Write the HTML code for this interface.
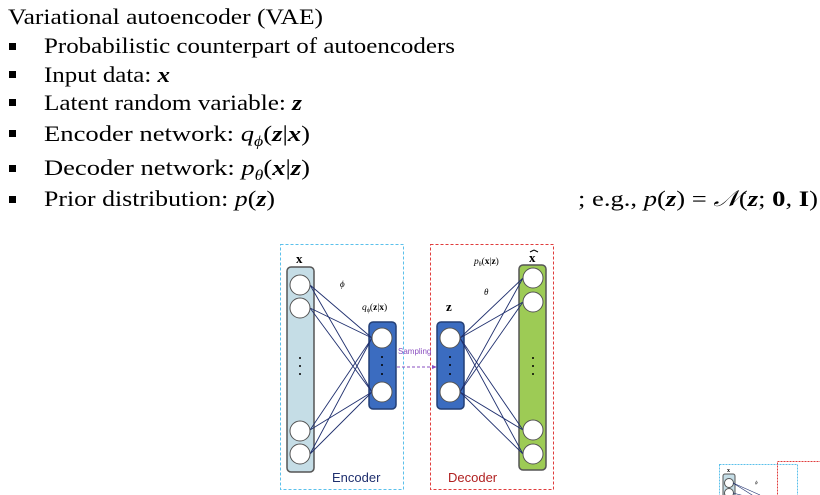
<!DOCTYPE html>
<html><head><meta charset="utf-8"><style>
html,body{margin:0;padding:0;background:#fff;}
svg{display:block}
.t{font-family:"Liberation Serif",serif;fill:#000}
.s{font-family:"Liberation Sans",sans-serif}
</style></head><body>
<svg width="820" height="495" viewBox="0 0 820 495" xmlns="http://www.w3.org/2000/svg">
<g class="t" style="font-size:22.5px">
<text x="8" y="24" textLength="315" lengthAdjust="spacingAndGlyphs">Variational autoencoder (VAE)</text>
<text x="44" y="53" textLength="411" lengthAdjust="spacingAndGlyphs">Probabilistic counterpart of autoencoders</text>
<text x="44" y="82" textLength="126" lengthAdjust="spacingAndGlyphs">Input data: <tspan font-weight="bold" font-style="italic">x</tspan></text>
<text x="44" y="110" textLength="258" lengthAdjust="spacingAndGlyphs">Latent random variable: <tspan font-weight="bold" font-style="italic">z</tspan></text>
<text x="44" y="141" textLength="266" lengthAdjust="spacingAndGlyphs">Encoder network: <tspan font-style="italic">q</tspan><tspan font-style="italic" style="font-size:15px" dy="5">ϕ</tspan><tspan dy="-5">(</tspan><tspan font-weight="bold" font-style="italic">z</tspan>|<tspan font-weight="bold" font-style="italic">x</tspan>)</text>
<text x="44" y="175" textLength="266" lengthAdjust="spacingAndGlyphs">Decoder network: <tspan font-style="italic">p</tspan><tspan font-style="italic" style="font-size:15px" dy="5">θ</tspan><tspan dy="-5">(</tspan><tspan font-weight="bold" font-style="italic">x</tspan>|<tspan font-weight="bold" font-style="italic">z</tspan>)</text>
<text x="44" y="206" textLength="231" lengthAdjust="spacingAndGlyphs">Prior distribution: <tspan font-style="italic">p</tspan>(<tspan font-weight="bold" font-style="italic">z</tspan>)</text>
<text x="578" y="206" textLength="240" lengthAdjust="spacingAndGlyphs">; e.g., <tspan font-style="italic">p</tspan>(<tspan font-weight="bold" font-style="italic">z</tspan>) = <tspan font-style="italic">𝒩</tspan>(<tspan font-weight="bold" font-style="italic">z</tspan>; <tspan font-weight="bold">0</tspan>, <tspan font-weight="bold">I</tspan>)</text>
</g>
<g fill="#000">
<rect x="9" y="43" width="7" height="7"/>
<rect x="9" y="71" width="7" height="7"/>
<rect x="9" y="99" width="7" height="7"/>
<rect x="9" y="130" width="7" height="7"/>
<rect x="9" y="165" width="7" height="7"/>
<rect x="9" y="196" width="7" height="7"/>
</g>

<rect x="280.5" y="244.5" width="123" height="245" fill="none" stroke="#5bc0eb" stroke-dasharray="3,2"/>
<rect x="430.5" y="244.5" width="123" height="245" fill="none" stroke="#e03c3c" stroke-dasharray="3,2"/>

<rect x="287" y="267" width="27" height="205" rx="4" fill="#c5dde6" stroke="#555" stroke-width="1.5"/>
<rect x="369" y="322" width="27" height="87" rx="4" fill="#3b6cc0" stroke="#233f75" stroke-width="1.5"/>
<rect x="437" y="322" width="27" height="87" rx="4" fill="#3b6cc0" stroke="#233f75" stroke-width="1.5"/>
<rect x="519" y="265" width="27" height="205" rx="4" fill="#9dcb55" stroke="#555" stroke-width="1.5"/>

<g stroke="#1f2f6e" stroke-width="0.9">
<line x1="310" y1="285" x2="372" y2="338"/><line x1="310" y1="285" x2="372" y2="392"/>
<line x1="310" y1="308" x2="372" y2="338"/><line x1="310" y1="308" x2="372" y2="392"/>
<line x1="310" y1="430" x2="372" y2="338"/><line x1="310" y1="430" x2="372" y2="392"/>
<line x1="310" y1="454" x2="372" y2="338"/><line x1="310" y1="454" x2="372" y2="392"/>
<line x1="460" y1="338" x2="523" y2="278"/><line x1="460" y1="338" x2="523" y2="302"/>
<line x1="460" y1="338" x2="523" y2="430"/><line x1="460" y1="338" x2="523" y2="454"/>
<line x1="460" y1="392" x2="523" y2="278"/><line x1="460" y1="392" x2="523" y2="302"/>
<line x1="460" y1="392" x2="523" y2="430"/><line x1="460" y1="392" x2="523" y2="454"/>
</g>

<g fill="#fff" stroke="#555" stroke-width="1">
<circle cx="300" cy="285" r="10"/><circle cx="300" cy="308" r="10"/>
<circle cx="300" cy="431" r="10"/><circle cx="300" cy="454" r="10"/>
<circle cx="382" cy="338" r="10"/><circle cx="382" cy="392" r="10"/>
<circle cx="450" cy="338" r="10"/><circle cx="450" cy="392" r="10"/>
<circle cx="533" cy="278" r="10"/><circle cx="533" cy="302" r="10"/>
<circle cx="533" cy="430" r="10"/><circle cx="533" cy="454" r="10"/>
</g>
<g fill="#000">
<circle cx="300" cy="358" r="1"/><circle cx="300" cy="366" r="1"/><circle cx="300" cy="374" r="1"/>
<circle cx="533" cy="358" r="1"/><circle cx="533" cy="366" r="1"/><circle cx="533" cy="374" r="1"/>
<circle cx="382" cy="357" r="1"/><circle cx="382" cy="365" r="1"/><circle cx="382" cy="374" r="1"/>
<circle cx="450" cy="357" r="1"/><circle cx="450" cy="365" r="1"/><circle cx="450" cy="374" r="1"/>
</g>

<line x1="397" y1="367" x2="433" y2="367" stroke="#8a4fc0" stroke-width="1" stroke-dasharray="3,2"/>
<polygon points="437,367 432,365 432,369" fill="#8a4fc0"/>
<text class="s" x="398" y="354" style="font-size:8px" fill="#8a4fc0">Sampling</text>

<text class="t" x="296" y="263" style="font-size:13px" font-weight="bold">x</text>
<text class="t" x="340" y="287" style="font-size:9px" font-style="italic">ϕ</text>
<text class="t" x="362" y="310" style="font-size:9.5px"><tspan font-style="italic">q</tspan><tspan style="font-size:6px" dy="2">ϕ</tspan><tspan dy="-2">(</tspan><tspan font-weight="bold">z</tspan>|<tspan font-weight="bold">x</tspan>)</text>
<text class="t" x="446" y="311" style="font-size:13px" font-weight="bold">z</text>
<text class="t" x="474" y="264" style="font-size:9.5px"><tspan font-style="italic">p</tspan><tspan style="font-size:6px" dy="2">θ</tspan><tspan dy="-2">(</tspan><tspan font-weight="bold">x</tspan>|<tspan font-weight="bold">z</tspan>)</text>
<text class="t" x="484" y="295" style="font-size:9px" font-style="italic">θ</text>
<text class="t" x="529" y="262" style="font-size:13px" font-weight="bold">x</text>
<line x1="530" y1="252" x2="534" y2="250" stroke="#000" stroke-width="1"/><line x1="534" y1="250" x2="538" y2="252" stroke="#000" stroke-width="1"/>
<text class="s" x="332" y="482" style="font-size:13px" fill="#1f2f6e">Encoder</text>
<text class="s" x="448" y="482" style="font-size:13px" fill="#b02020">Decoder</text>

<rect x="719.5" y="464.5" width="78" height="40" fill="none" stroke="#5bc0eb" stroke-dasharray="2,1"/>
<rect x="777.5" y="461.5" width="50" height="40" fill="none" stroke="#e03c3c" stroke-dasharray="2,1"/>
<rect x="723" y="474" width="12" height="30" rx="2" fill="#c5dde6" stroke="#555"/>
<circle cx="729" cy="483" r="4.5" fill="#fff" stroke="#555"/>
<circle cx="729" cy="493" r="4.5" fill="#fff" stroke="#555"/>
<text class="t" x="727" y="472" style="font-size:6px" font-weight="bold">x</text>
<text class="t" x="755" y="484" style="font-size:5px" font-style="italic">ϕ</text>
<g stroke="#1f2f6e" stroke-width="0.6"><line x1="733" y1="483" x2="760" y2="500"/><line x1="733" y1="483" x2="760" y2="495"/><line x1="733" y1="493" x2="760" y2="500"/></g>
</svg>
</body></html>
